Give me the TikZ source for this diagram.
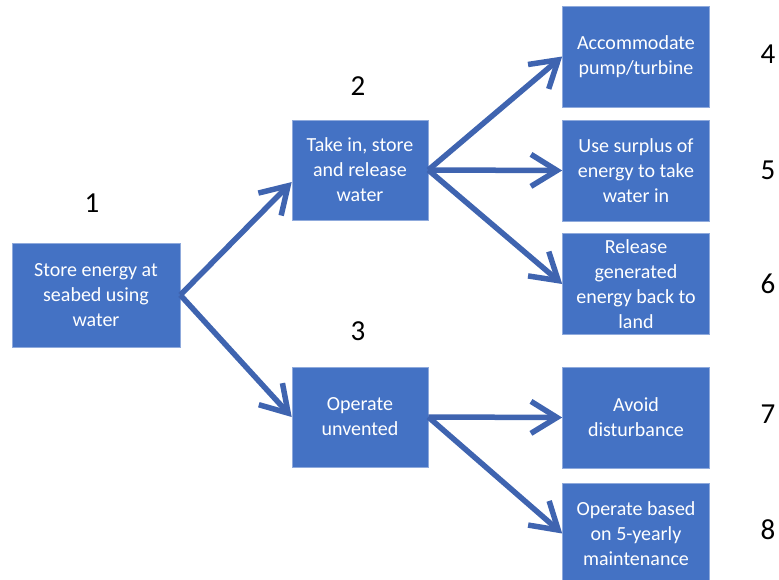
\documentclass[tikz,border=0pt]{standalone}
\usepackage{fontspec}
\setmainfont{Carlito}
\usetikzlibrary{arrows.meta}
\definecolor{boxblue}{RGB}{68,114,196}
\definecolor{boxedge}{RGB}{143,170,220}
\definecolor{arrowblue}{RGB}{63,100,176}
\begin{document}
\begin{tikzpicture}[x=1pt,y=-1pt,
  box/.style={draw=boxedge,line width=0.6pt,fill=boxblue,text=white,inner sep=0pt,align=center,font=\fontsize{20}{25}\selectfont},
  mainbox/.style={box,minimum width=168pt,minimum height=104pt},
  midbox/.style={box,minimum width=136pt,minimum height=100pt},
  leafbox/.style={box,minimum width=147pt,minimum height=101pt},
  num/.style={inner sep=0pt,font=\fontsize{29}{30}\selectfont},
  link/.style={draw=arrowblue,line width=5.5pt,-{Straight Barb[length=26pt,width=32pt]}}]
\useasboundingbox (0,0) rectangle (779,580);
\node [mainbox] (store) at (96,295) {Store energy at\\seabed using\\water};
\node [midbox] (take) at (360,170) {Take in, store\\and release\\water};
\node [midbox] (unvent) at (360,417) {Operate\\unvented};
\node [leafbox] (pump) at (636,56.5) {Accommodate\\pump/turbine};
\node [leafbox] (surplus) at (636,170.5) {Use surplus of\\energy to take\\water in};
\node [leafbox] (release) at (636,284) {Release\\generated\\energy back to\\land};
\node [leafbox] (avoid) at (636,417.5) {Avoid\\disturbance};
\node [leafbox] (maint) at (636,533.5) {Operate based\\on 5-yearly\\maintenance};
\node [num] (n1) at (92,203) {1};
\node [num] (n2) at (358,86) {2};
\node [num] (n3) at (358,331) {3};
\node [num] (n4) at (768,54) {4};
\node [num] (n5) at (768,170) {5};
\node [num] (n6) at (768,284) {6};
\node [num] (n7) at (768,414) {7};
\node [num] (n8) at (768,530) {8};
\draw [link] (store.east) -- (take.190);
\draw [link] (store.east) -- (unvent.west);
\draw [link] (take.east) -- (pump.west);
\draw [link] (take.east) -- (surplus.west);
\draw [link] (take.east) -- (release.west);
\draw [link] (unvent.east) -- (avoid.west);
\draw [link] (unvent.east) -- (maint.west);
\end{tikzpicture}
\end{document}
